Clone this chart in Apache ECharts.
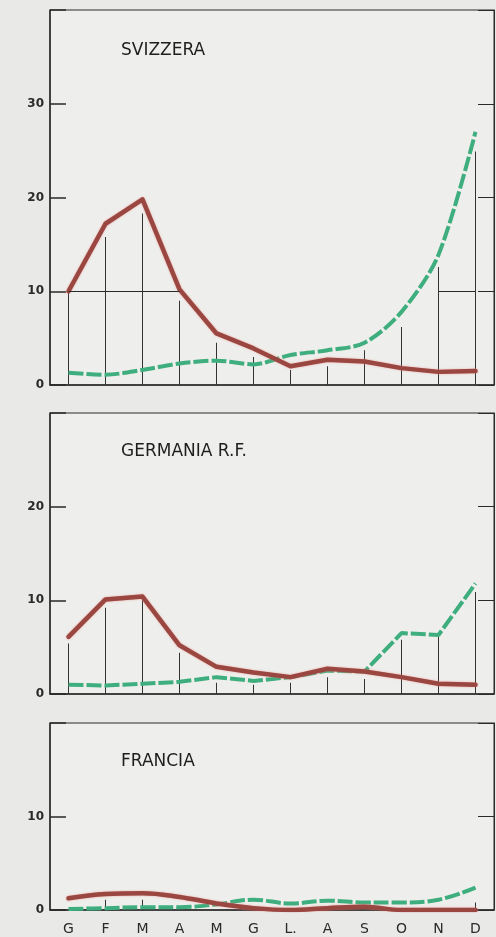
<!DOCTYPE html>
<html>
<head>
<meta charset="utf-8">
<script src="https://cdn.jsdelivr.net/npm/echarts@6/dist/echarts.min.js"></script>
<style>
  html, body { margin: 0; padding: 0; background: #e9e9e7; }
  #chart { width: 496px; height: 937px; }
</style>
</head>
<body>
<div id="chart"></div>
<script>
// mesi (iniziali)
const months = ['G', 'F', 'M', 'A', 'M', 'G', 'L.', 'A', 'S', 'O', 'N', 'D'];

// valori
const svizzeraRed = [10, 17.2, 19.8, 10.2, 5.5, 3.9, 2.0, 2.7, 2.5, 1.8, 1.4, 1.5];
const svizzeraGreen = [1.3, 1.1, 1.6, 2.3, 2.6, 2.2, 3.2, 3.7, 4.5, 7.8, 13.9, 27.0];
const svizzeraDrop = [10, 15.8, 18.3, 9, 4.5, 3, 1.6, 2, 3.7, 6.2, 12.6, 24.9];

const germaniaRed = [6.1, 10.1, 10.4, 5.2, 2.9, 2.3, 1.8, 2.7, 2.4, 1.8, 1.1, 1.0];
const germaniaGreen = [1.0, 0.9, 1.1, 1.3, 1.8, 1.4, 1.8, 2.5, 2.4, 6.5, 6.3, 11.8];
const germaniaDrop = [5.4, 9.2, 10, 4.4, 1.2, 1, 1.2, 1.8, 1.6, 5.8, 6.1, 10.9];

const franciaRed = [1.25, 1.7, 1.8, 1.4, 0.7, 0.2, 0, 0.2, 0.35, 0, 0, 0];
const franciaGreen = [0.1, 0.2, 0.3, 0.3, 0.6, 1.1, 0.7, 1.0, 0.8, 0.8, 1.1, 2.4];
const franciaDrop = [0, 1.1, 1.1, 0, 0, 0, 0, 0, 0, 0, 0, 0.8];

const titles = ['SVIZZERA', 'GERMANIA R.F.', 'FRANCIA'];
const yMax = [40, 30, 20];

const RED = '#9a4742';
const GREEN = '#3fae7e';
const INK = '#2a2a2a';

// posizione dei tre riquadri
const panels = [
  { top: 10, height: 375 },
  { top: 413, height: 281 },
  { top: 723, height: 187 }
];

const chart = echarts.init(document.getElementById('chart'));

const grid = panels.map(p => ({
  left: 50, right: 2, top: p.top, height: p.height,
  show: true, backgroundColor: '#eeeeec', borderColor: INK, borderWidth: 1
}));

const xAxis = panels.map((p, i) => ({
  type: 'category', gridIndex: i, data: months, boundaryGap: true,
  axisLine: { lineStyle: { color: INK, width: 1.5 } },
  axisTick: { show: false },
  axisLabel: {
    show: i === 2, color: INK, fontSize: 14, margin: 12,
    fontFamily: 'DejaVu Sans'
  }
}));

const yAxis = [];
panels.forEach((p, i) => {
  yAxis.push({
    type: 'value', gridIndex: i, min: 0, max: yMax[i], interval: 10,
    axisLine: { show: true, lineStyle: { color: INK, width: 1.5 } },
    axisTick: { show: true, inside: true, length: 16, lineStyle: { color: INK, width: 1.5 } },
    axisLabel: {
      color: INK, fontSize: 12, fontWeight: 'bold', margin: 6,
      fontFamily: 'DejaVu Sans',
      formatter: v => (v === yMax[i] ? '' : v)
    },
    splitLine: { show: false }
  });
  yAxis.push({
    type: 'value', gridIndex: i, position: 'right', min: 0, max: yMax[i], interval: 10,
    axisLine: { show: true, lineStyle: { color: INK, width: 1 } },
    axisTick: { show: true, inside: true, length: 16, lineStyle: { color: INK, width: 1 } },
    axisLabel: { show: false },
    splitLine: { show: false }
  });
});

const sets = [
  [svizzeraRed, svizzeraGreen, svizzeraDrop],
  [germaniaRed, germaniaGreen, germaniaDrop],
  [franciaRed, franciaGreen, franciaDrop]
];
const smoothRed = [false, false, 0.4];
const smoothGreen = [0.3, false, 0.4];

const series = [];
sets.forEach((s, i) => {
  series.push({
    type: 'bar', xAxisIndex: i, yAxisIndex: i * 2, data: s[2],
    barWidth: 1, itemStyle: { color: '#333' }, silent: true, z: 1,
    markLine: i === 0 ? {
      silent: true, symbol: 'none', label: { show: false },
      lineStyle: { color: INK, width: 1.2, type: 'solid' },
      data: [
        [{ coord: [0, 10] }, { coord: [3, 10] }],
        [{ coord: [10, 10] }, { coord: [11, 10] }]
      ]
    } : undefined
  });
  series.push({
    type: 'line', xAxisIndex: i, yAxisIndex: i * 2, data: s[1],
    smooth: smoothGreen[i], showSymbol: false, z: 3,
    lineStyle: { color: GREEN, width: 4, type: [15, 3] }
  });
  series.push({
    type: 'line', xAxisIndex: i, yAxisIndex: i * 2, data: s[0],
    smooth: smoothRed[i], showSymbol: false, z: 4,
    lineStyle: {
      color: RED, width: 4.5, cap: 'round', join: 'round',
      shadowColor: 'rgba(235,130,120,0.7)', shadowBlur: 2
    }
  });
});

const option = {
  animation: false,
  backgroundColor: '#e9e9e7',
  title: titles.map((t, i) => ({
    text: t, left: 116, top: panels[i].top + (i === 0 ? 27 : 25),
    textStyle: { color: '#1e1e1e', fontSize: 17, fontWeight: 'normal', fontFamily: 'DejaVu Sans' }
  })),
  grid: grid,
  xAxis: xAxis,
  yAxis: yAxis,
  series: series
};

chart.setOption(option);
</script>
</body>
</html>
